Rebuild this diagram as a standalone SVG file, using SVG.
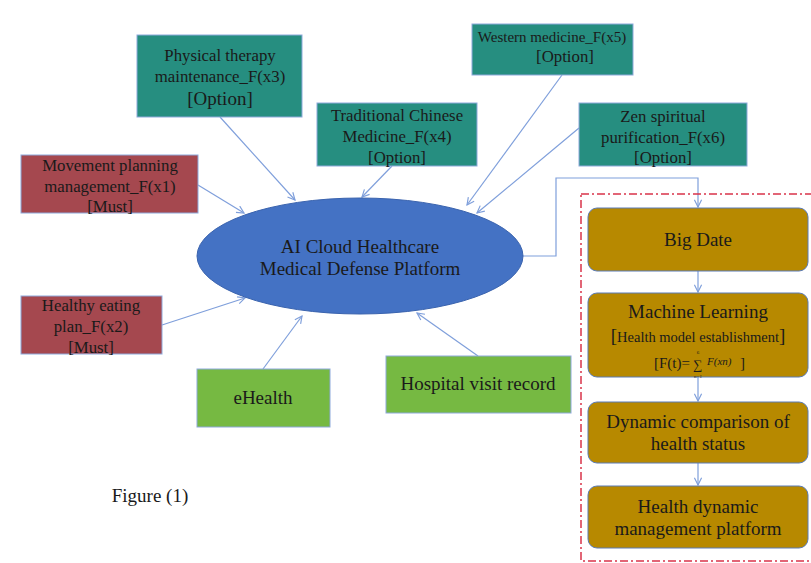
<svg xmlns="http://www.w3.org/2000/svg" width="811" height="563" viewBox="0 0 811 563" font-family="'Liberation Serif', 'Times New Roman', serif">
<defs>
<marker id="arr" viewBox="0 0 10 10" refX="9" refY="5" markerWidth="9" markerHeight="9" markerUnits="userSpaceOnUse" orient="auto">
<polyline points="1,1 9,5 1,9" fill="none" stroke="#7F9FDB" stroke-width="1.3"/>
</marker>
<style>
text{font-family:'Liberation Serif','Times New Roman',serif;fill:#1a1a1a;text-anchor:middle}
.teal{fill:#268E80;stroke:#8EA9DB;stroke-width:1}
.red{fill:#A5484F;stroke:#8EA9DB;stroke-width:1}
.green{fill:#76B942;stroke:#8EA9DB;stroke-width:1}
.gold{fill:#B78900;stroke:#5B7BB5;stroke-width:1}
.con{fill:none;stroke:#7F9FDB;stroke-width:1.2;marker-end:url(#arr)}
.s15{font-size:16.8px}
.s17{font-size:19px}
</style>
</defs>
<rect width="811" height="563" fill="#fff"/>

<g id="connectors">
<line class="con" x1="198" y1="185" x2="244" y2="213"/>
<line class="con" x1="220" y1="117" x2="295" y2="200"/>
<line class="con" x1="392" y1="166" x2="362" y2="197"/>
<line class="con" x1="562" y1="75" x2="467" y2="205"/>
<line class="con" x1="579" y1="128" x2="477" y2="213"/>
<line class="con" x1="162" y1="325" x2="245" y2="298"/>
<line class="con" x1="263" y1="369" x2="302" y2="316"/>
<line class="con" x1="478" y1="356" x2="417" y2="313"/>
<polyline class="con" points="523,256 556,256 556,178 698,178 698,207"/>
<line class="con" x1="698" y1="271" x2="698" y2="292"/>
<line class="con" x1="698" y1="377" x2="698" y2="401"/>
<line class="con" x1="698" y1="463" x2="698" y2="485"/>
</g>

<g id="boundary">
<rect x="581" y="194" width="240" height="367" fill="none" stroke="#D9334A" stroke-width="1.5" stroke-dasharray="8,3,2,3"/>
</g>

<g id="physical">
<rect class="teal" x="137" y="35" width="165" height="82"/>
<text class="s15" x="220" y="61">Physical therapy</text>
<text class="s15" x="220" y="82">maintenance_F(x3)</text>
<text x="220" y="105" style="font-size:19px">[Option]</text>
</g>

<g id="tcm">
<rect class="teal" x="317" y="103" width="160" height="63"/>
<text class="s15" x="397" y="121">Traditional Chinese</text>
<text class="s15" x="397" y="142">Medicine_F(x4)</text>
<text class="s15" x="397" y="163">[Option]</text>
</g>

<g id="western">
<rect class="teal" x="472" y="24" width="161" height="51"/>
<text x="552" y="42" style="font-size:15px">Western medicine_F(x5)</text>
<text class="s15" x="565" y="62">[Option]</text>
</g>

<g id="zen">
<rect class="teal" x="579" y="103" width="168" height="63"/>
<text class="s15" x="663" y="122">Zen spiritual</text>
<text class="s15" x="663" y="143">purification_F(x6)</text>
<text class="s15" x="663" y="163">[Option]</text>
</g>

<g id="movement">
<rect class="red" x="21" y="155" width="177" height="58"/>
<text class="s15" x="110" y="171">Movement planning</text>
<text class="s15" x="110" y="192">management_F(x1)</text>
<text class="s15" x="110" y="212">[Must]</text>
</g>

<g id="eating">
<rect class="red" x="21" y="296" width="141" height="58"/>
<text class="s15" x="91" y="311">Healthy eating</text>
<text class="s15" x="91" y="332">plan_F(x2)</text>
<text class="s15" x="91" y="353">[Must]</text>
</g>

<g id="platform">
<ellipse cx="360" cy="256" rx="163" ry="58" fill="#4472C4" stroke="#3A63AE" stroke-width="1"/>
<text class="s17" x="360" y="253">AI Cloud Healthcare</text>
<text class="s17" x="360" y="275">Medical Defense Platform</text>
</g>

<g id="ehealth">
<rect class="green" x="197" y="369" width="133" height="58"/>
<text class="s17" x="263" y="404">eHealth</text>
</g>

<g id="hospital">
<rect class="green" x="386" y="356" width="185" height="57"/>
<text class="s17" x="478" y="390">Hospital visit record</text>
</g>

<g id="bigdata">
<rect class="gold" x="588" y="208" width="220" height="63" rx="9"/>
<text class="s17" x="698" y="246">Big Date</text>
</g>

<g id="ml">
<rect class="gold" x="588" y="293" width="220" height="84" rx="9"/>
<text class="s17" x="698" y="318">Machine Learning</text>
<text x="698" y="342" style="font-size:14.5px"><tspan style="font-size:19px">[</tspan>Health model establishment<tspan style="font-size:19px">]</tspan></text>
<text x="654" y="368" style="font-size:15px;text-anchor:start">[F(t)=</text>
<text x="698" y="369" style="font-size:13px">∑</text>
<text x="698" y="354" style="font-size:5px">6</text>
<text x="698" y="378" style="font-size:5px">n=1</text>
<text x="707" y="365" style="font-size:11px;font-style:italic;text-anchor:start">F(xn)</text>
<text x="740" y="368" style="font-size:15px;text-anchor:start">]</text>
</g>

<g id="compare">
<rect class="gold" x="588" y="402" width="220" height="61" rx="9"/>
<text class="s17" x="698" y="428">Dynamic comparison of</text>
<text class="s17" x="698" y="450">health status</text>
</g>

<g id="mgmt">
<rect class="gold" x="588" y="486" width="220" height="62" rx="9"/>
<text class="s17" x="698" y="513">Health dynamic</text>
<text class="s17" x="698" y="535">management platform</text>
</g>

<text x="150" y="502" style="font-size:19px">Figure (1)</text>
</svg>
